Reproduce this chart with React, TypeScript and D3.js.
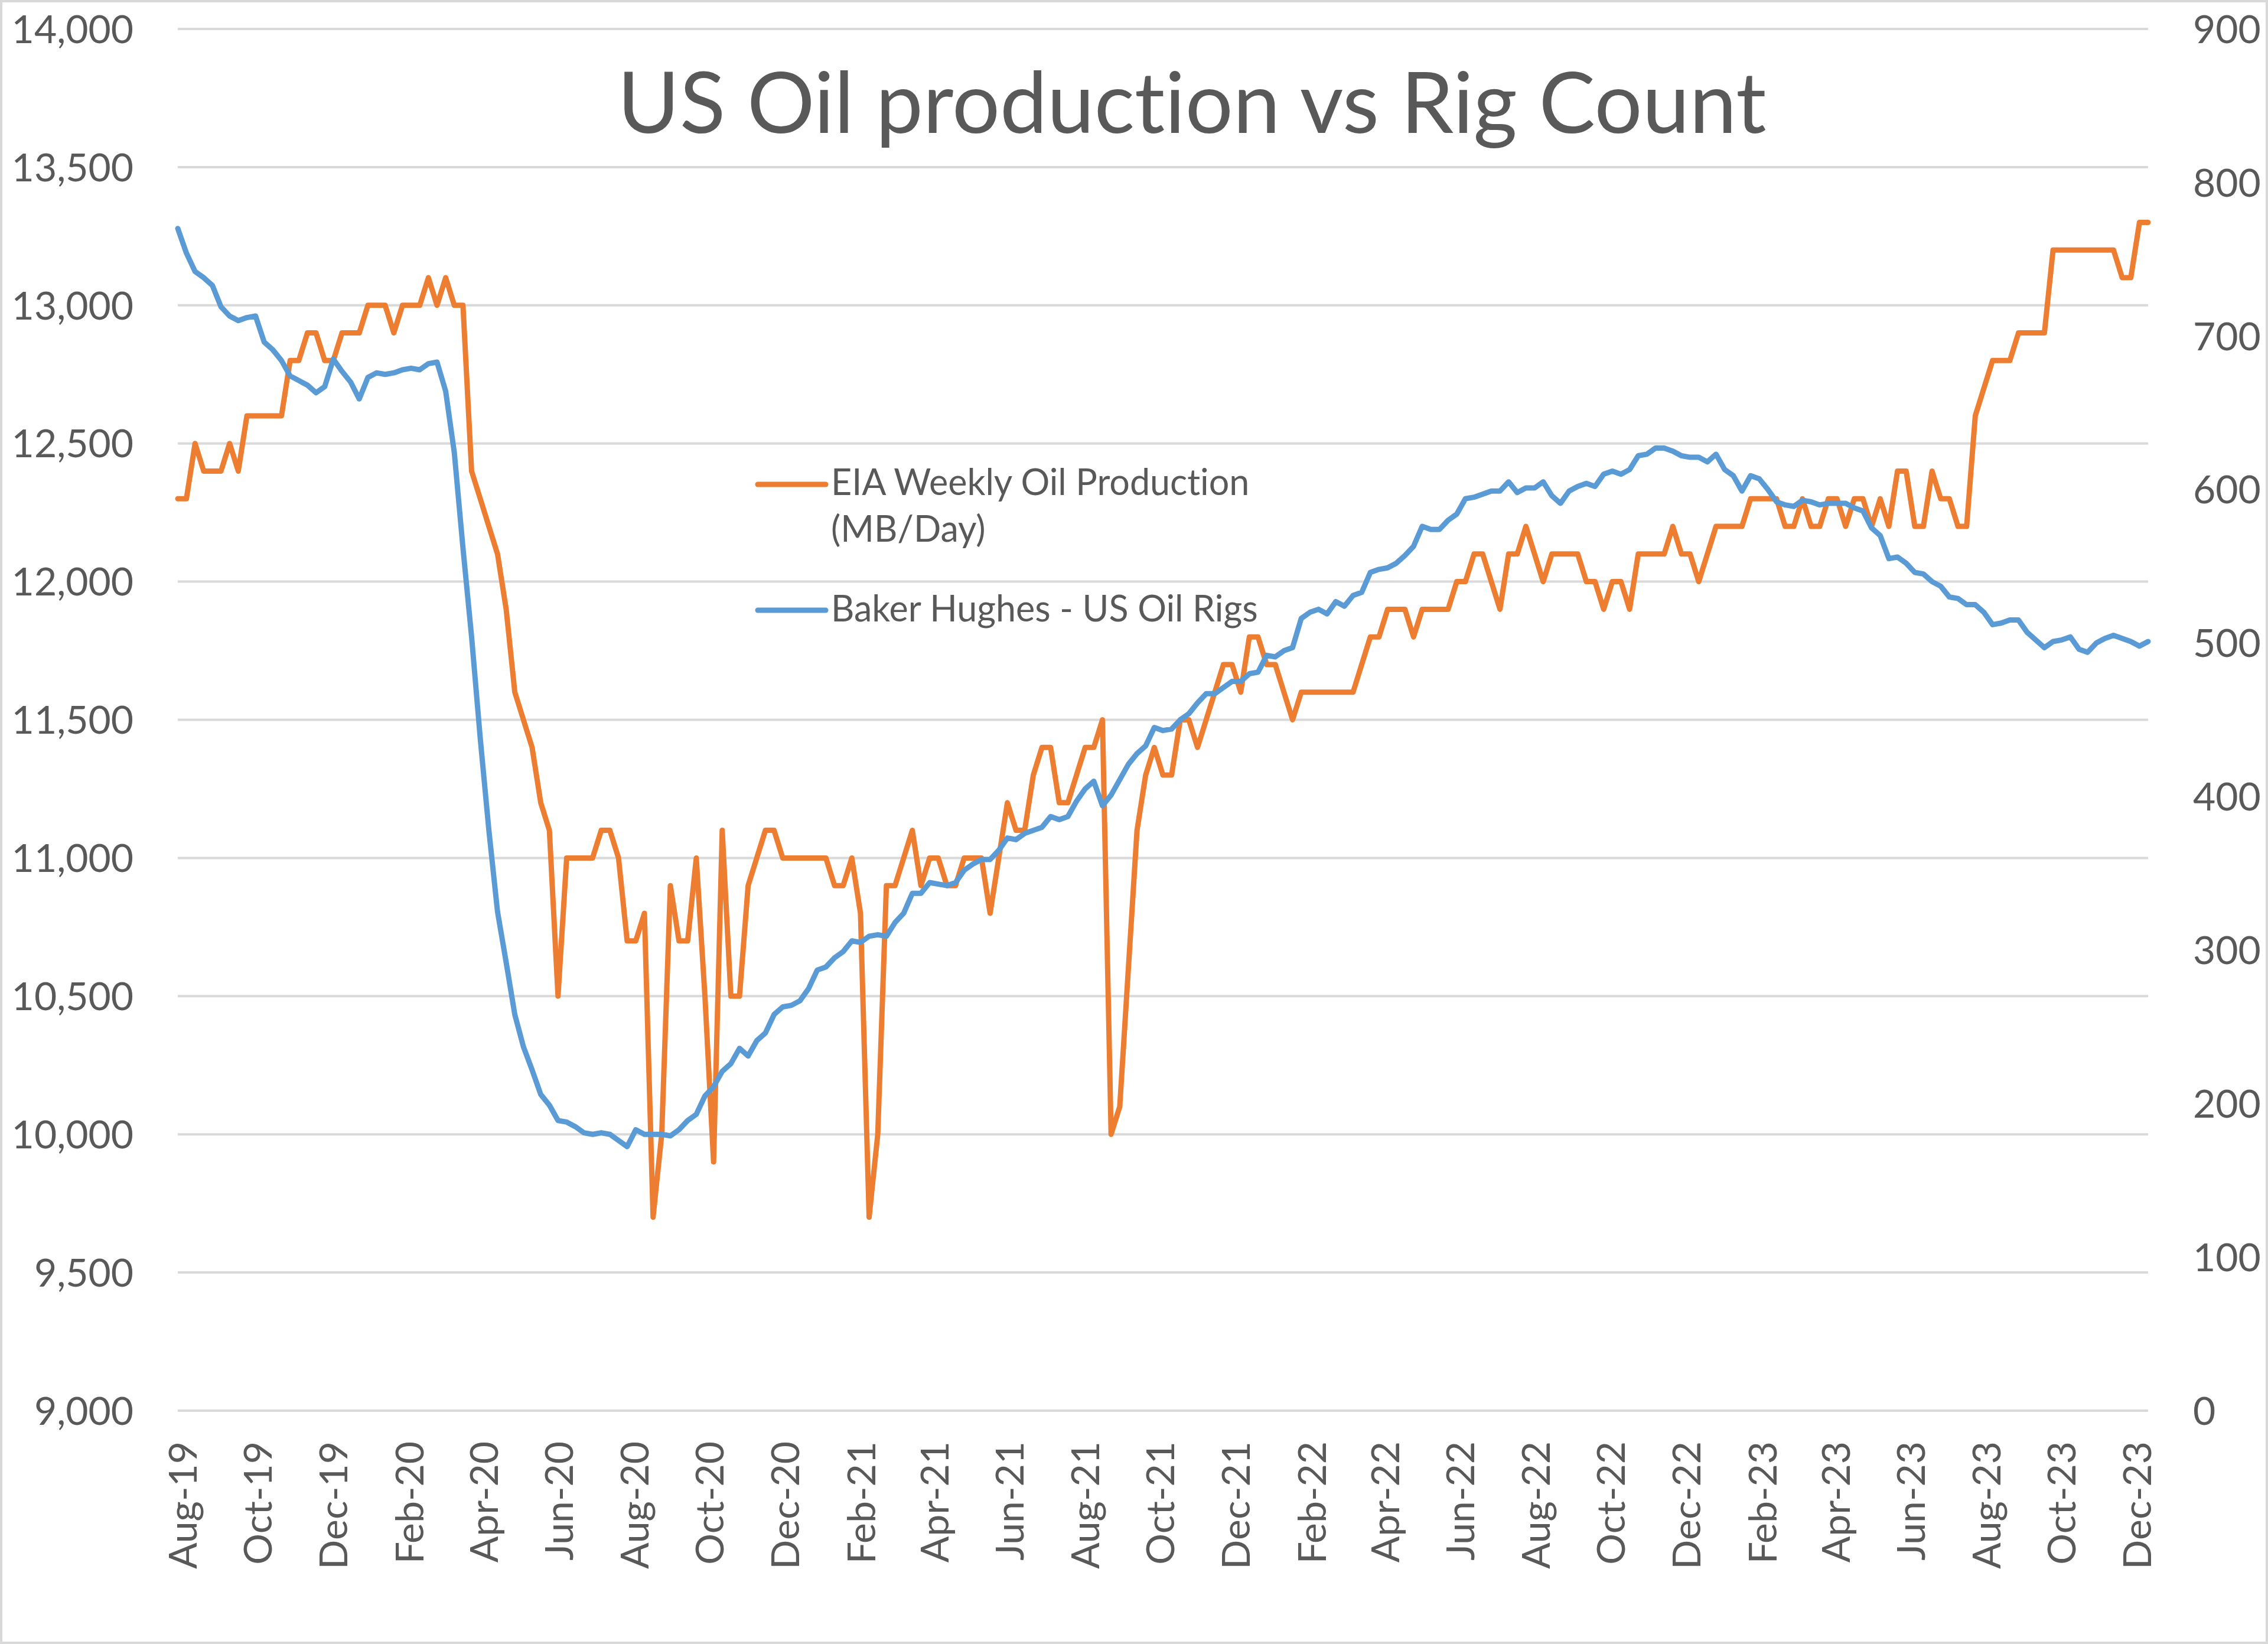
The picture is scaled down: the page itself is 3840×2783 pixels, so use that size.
import * as d3 from 'd3';

// weekly observations, first week ending 9 Aug 2019
const startDate = new Date(2019, 7, 9);

// EIA weekly US field production, thousand b/d
const eiaProduction = [
  12300, 12300, 12500, 12400, 12400, 12400, 12500, 12400, 12600, 12600,
  12600, 12600, 12600, 12800, 12800, 12900, 12900, 12800, 12800, 12900,
  12900, 12900, 13000, 13000, 13000, 12900, 13000, 13000, 13000, 13100,
  13000, 13100, 13000, 13000, 12400, 12300, 12200, 12100, 11900, 11600,
  11500, 11400, 11200, 11100, 10500, 11000, 11000, 11000, 11000, 11100,
  11100, 11000, 10700, 10700, 10800, 9700, 10000, 10900, 10700, 10700,
  11000, 10500, 9900, 11100, 10500, 10500, 10900, 11000, 11100, 11100,
  11000, 11000, 11000, 11000, 11000, 11000, 10900, 10900, 11000, 10800,
  9700, 10000, 10900, 10900, 11000, 11100, 10900, 11000, 11000, 10900,
  10900, 11000, 11000, 11000, 10800, 11000, 11200, 11100, 11100, 11300,
  11400, 11400, 11200, 11200, 11300, 11400, 11400, 11500, 10000, 10100,
  10600, 11100, 11300, 11400, 11300, 11300, 11500, 11500, 11400, 11500,
  11600, 11700, 11700, 11600, 11800, 11800, 11700, 11700, 11600, 11500,
  11600, 11600, 11600, 11600, 11600, 11600, 11600, 11700, 11800, 11800,
  11900, 11900, 11900, 11800, 11900, 11900, 11900, 11900, 12000, 12000,
  12100, 12100, 12000, 11900, 12100, 12100, 12200, 12100, 12000, 12100,
  12100, 12100, 12100, 12000, 12000, 11900, 12000, 12000, 11900, 12100,
  12100, 12100, 12100, 12200, 12100, 12100, 12000, 12100, 12200, 12200,
  12200, 12200, 12300, 12300, 12300, 12300, 12200, 12200, 12300, 12200,
  12200, 12300, 12300, 12200, 12300, 12300, 12200, 12300, 12200, 12400,
  12400, 12200, 12200, 12400, 12300, 12300, 12200, 12200, 12600, 12700,
  12800, 12800, 12800, 12900, 12900, 12900, 12900, 13200, 13200, 13200,
  13200, 13200, 13200, 13200, 13200, 13100, 13100, 13300, 13300
];

// Baker Hughes US oil rigs
const rigCount = [
  770, 754, 742, 738, 733, 719, 713, 710, 712, 713,
  696, 691, 684, 674, 671, 668, 663, 667, 685, 677,
  670, 659, 673, 676, 675, 676, 678, 679, 678, 682,
  683, 664, 624, 562, 504, 438, 378, 325, 292, 258,
  237, 222, 206, 199, 189, 188, 185, 181, 180, 181,
  180, 176, 172, 183, 180, 180, 180, 179, 183, 189,
  193, 205, 211, 221, 226, 236, 231, 241, 246, 258,
  263, 264, 267, 275, 287, 289, 295, 299, 306, 305,
  309, 310, 309, 318, 324, 337, 337, 344, 343, 342,
  344, 352, 356, 359, 359, 365, 373, 372, 376, 378,
  380, 387, 385, 387, 397, 405, 410, 394, 401, 411,
  421, 428, 433, 445, 443, 444, 450, 454, 461, 467,
  467, 471, 475, 475, 480, 481, 492, 491, 495, 497,
  516, 520, 522, 519, 527, 524, 531, 533, 546, 548,
  549, 552, 557, 563, 576, 574, 574, 580, 584, 594,
  595, 597, 599, 599, 605, 598, 601, 601, 605, 596,
  591, 599, 602, 604, 602, 610, 612, 610, 613, 622,
  623, 627, 627, 625, 622, 621, 621, 618, 623, 613,
  609, 599, 609, 607, 600, 592, 590, 589, 593, 592,
  590, 591, 591, 591, 588, 586, 575, 570, 555, 556,
  552, 546, 545, 540, 537, 530, 529, 525, 525, 520,
  512, 513, 515, 515, 507, 502, 497, 501, 502, 504,
  496, 494, 500, 503, 505, 503, 501, 498, 501
];

const leftTicks = [9000, 9500, 10000, 10500, 11000, 11500, 12000, 12500, 13000, 13500, 14000];
const rightTicks = [0, 100, 200, 300, 400, 500, 600, 700, 800, 900];

const titleText = 'US Oil production vs Rig Count';
const eiaLabel = ['EIA Weekly Oil Production', '(MB/Day)'];
const rigLabel = 'Baker Hughes - US Oil Rigs';

const ORANGE = '#ED7D31';
const BLUE = '#5B9BD5';
const TEXT = '#595959';
const GRID = '#D9D9D9';

export default function App() {
  const width = 3840;
  const height = 2783;
  const left = 301;
  const right = 3637;
  const top = 49;
  const bottom = 2388;

  const weeks = eiaProduction.map((_, i) => d3.timeDay.offset(startDate, 7 * i));

  const x = d3
    .scaleTime()
    .domain([weeks[0], weeks[weeks.length - 1]])
    .range([left, right]);
  const yLeft = d3.scaleLinear().domain([9000, 14000]).range([bottom, top]);
  const yRight = d3.scaleLinear().domain([0, 900]).range([bottom, top]);

  const xTicks = d3
    .range(0, 60, 2)
    .map(k => d3.timeMonth.offset(startDate, k))
    .filter(d => d <= weeks[weeks.length - 1]);

  const eiaLine = d3
    .line<number>()
    .x((_, i) => x(weeks[i]))
    .y(d => yLeft(d));
  const rigLine = d3
    .line<number>()
    .x((_, i) => x(weeks[i]))
    .y(d => yRight(d));

  const fmt = d3.format(',');
  const fmtDate = d3.timeFormat('%b-%y');
  const font = 'Lato, "Open Sans", sans-serif';

  return (
    <div style={{ position: 'absolute', left: 0, top: 0 }}>
      <svg
        xmlns="http://www.w3.org/2000/svg"
        width={width}
        height={height}
        style={{ display: 'block', fontFamily: font, fontVariantLigatures: 'none' }}
      >
        <rect width={width} height={height} fill="#fff" />
        <rect
          x={2}
          y={2}
          width={width - 4}
          height={height - 4}
          fill="none"
          stroke={GRID}
          strokeWidth={4}
        />

        {leftTicks.map(t => (
          <line
            key={'g' + t}
            x1={left}
            x2={right}
            y1={yLeft(t)}
            y2={yLeft(t)}
            stroke={GRID}
            strokeWidth={4}
          />
        ))}

        {leftTicks.map(t => (
          <text
            key={'l' + t}
            x={226}
            y={yLeft(t)}
            dy="0.36em"
            textAnchor="end"
            fontSize={66}
            fill={TEXT}
          >
            {fmt(t)}
          </text>
        ))}

        {rightTicks.map(t => (
          <text
            key={'r' + t}
            x={3713}
            y={yRight(t)}
            dy="0.36em"
            textAnchor="start"
            fontSize={66}
            fill={TEXT}
          >
            {t}
          </text>
        ))}

        {xTicks.map(d => (
          <text
            key={'x' + d.getTime()}
            transform={`translate(${x(d) + 8},2440) rotate(-90)`}
            dy="0.36em"
            textAnchor="end"
            fontSize={66}
            fill={TEXT}
          >
            {fmtDate(d)}
          </text>
        ))}

        <path
          d={eiaLine(eiaProduction) || ''}
          fill="none"
          stroke={ORANGE}
          strokeWidth={9}
          strokeLinejoin="round"
          strokeLinecap="round"
        />
        <path
          d={rigLine(rigCount) || ''}
          fill="none"
          stroke={BLUE}
          strokeWidth={9}
          strokeLinejoin="round"
          strokeLinecap="round"
        />

        <text x={2018} y={225} textAnchor="middle" fontSize={143} fill={TEXT}>
          {titleText}
        </text>

        <g fontSize={61} fill={TEXT}>
          <line x1={1283} x2={1398} y1={820} y2={820} stroke={ORANGE} strokeWidth={9} strokeLinecap="round" />
          <text x={1407} y={838}>{eiaLabel[0]}</text>
          <text x={1407} y={917}>{eiaLabel[1]}</text>
          <line x1={1283} x2={1398} y1={1033} y2={1033} stroke={BLUE} strokeWidth={9} strokeLinecap="round" />
          <text x={1407} y={1052}>{rigLabel}</text>
        </g>
      </svg>
    </div>
  );
}
